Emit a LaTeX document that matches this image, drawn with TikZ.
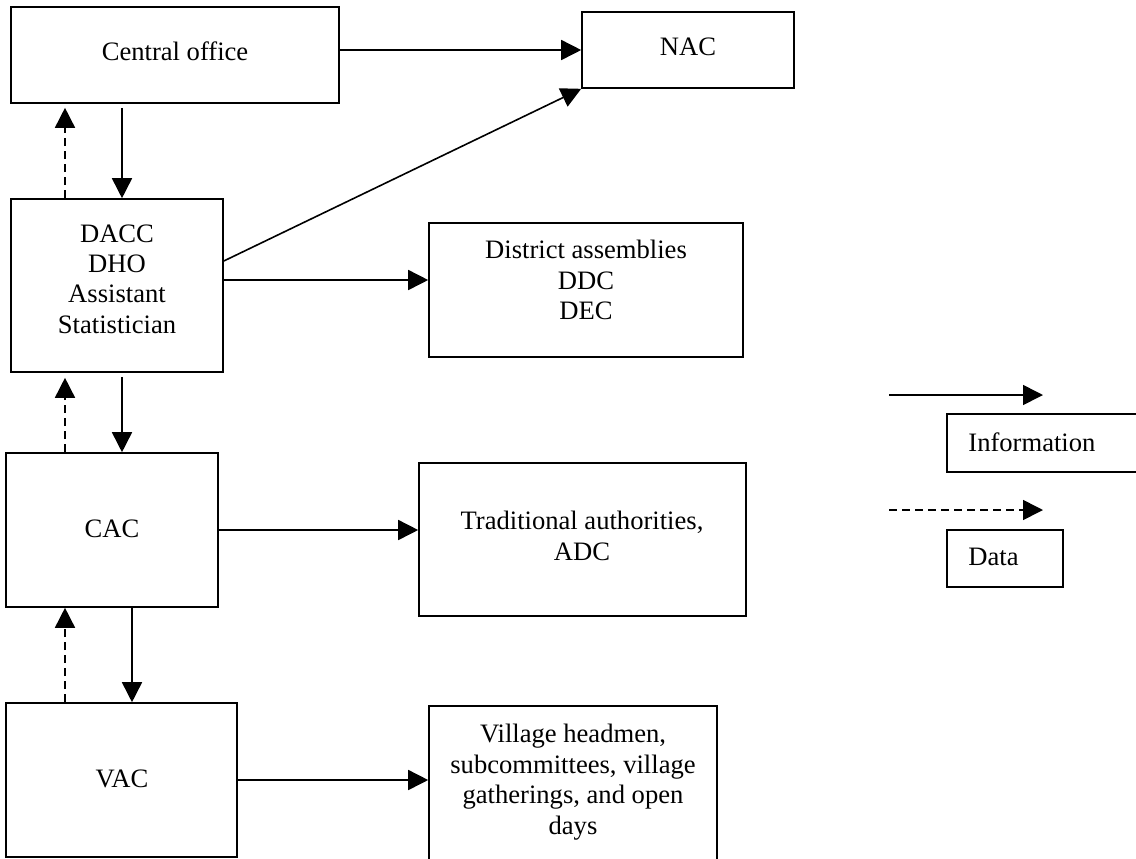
\documentclass[tikz,border=0pt]{standalone}
\usepackage{fontspec}
\setmainfont{Liberation Serif}
\usetikzlibrary{arrows.meta,fit}
\begin{document}
\begin{tikzpicture}[x=0.5pt,y=-0.5pt,
  box/.style={draw, line width=0.8pt, inner sep=0pt},
  txt/.style={inner sep=0pt, align=center, font=\fontsize{13.3}{15.2}\selectfont},
  info/.style={line width=0.8pt, -{Triangle[length=10pt,width=10pt]}},
  datal/.style={info, dash pattern=on 4pt off 2.5pt}]
\useasboundingbox (0,0) rectangle (1136,858);
% boxes
\node[box, fit={(11,7) (339,103)}] (central) {};
\node[box, fit={(582,12) (794,88)}] (nac) {};
\node[box, fit={(11,199) (223,372)}] (dacc) {};
\node[box, fit={(429,223) (743,357)}] (district) {};
\node[box, fit={(6,453) (218,607)}] (cac) {};
\node[box, fit={(419,463) (746,616)}] (trad) {};
\node[box, fit={(6,703) (237,857)}] (vac) {};
\node[box, fit={(429,706) (717,875)}] (village) {};
\node[box, fit={(947,414) (1145,472)}] (infobox) {};
\node[box, fit={(947,530) (1063,587)}] (databox) {};
% texts
\node[txt, anchor=base] (centralT) at (175,60) {Central office};
\node[txt, anchor=base] (nacT) at (688,55) {NAC};
\node[txt, anchor=north] (daccT) at (117,224) {DACC\\DHO\\Assistant\\Statistician};
\node[txt, anchor=north] (districtT) at (586,240) {District assemblies\\DDC\\DEC};
\node[txt, anchor=base] (cacT) at (112,537) {CAC};
\node[txt, anchor=north] (tradT) at (582,511) {Traditional authorities,\\ADC};
\node[txt, anchor=base] (vacT) at (122,787) {VAC};
\node[txt, anchor=north] (villageT) at (573,724) {Village headmen,\\subcommittees, village\\gatherings, and open\\days};
\node[txt, anchor=base west] (infoT) at (968,451) {Information};
\node[txt, anchor=base west] (dataT) at (968,565) {Data};
% helper coordinates
\coordinate (xa) at (122,0);
\coordinate (xb) at (65,0);
\coordinate (xc) at (132,0);
\coordinate (y261) at (0,261);
\coordinate (y280) at (0,280);
\coordinate (l1a) at (889,395);
\coordinate (l1b) at (1043,395);
\coordinate (l2a) at (889,510);
\coordinate (l2b) at (1043,510);
% connectors
\draw[info] (central.east |- nac.west) -- (nac.west);
\draw[info, shorten <=2pt] (central.south -| xa) -- (dacc.north -| xa);
\draw[datal, shorten >=2pt] (dacc.north -| xb) -- (central.south -| xb);
\draw[info] (dacc.east |- y261) -- (nac.south west);
\draw[info] (dacc.east |- y280) -- (district.west |- y280);
\draw[info, shorten <=2pt] (dacc.south -| xa) -- (cac.north -| xa);
\draw[datal, shorten >=2.5pt] (cac.north -| xb) -- (dacc.south -| xb);
\draw[info] (cac.east) -- (trad.west |- cac.east);
\draw[info] (cac.south -| xc) -- (vac.north -| xc);
\draw[datal] (vac.north -| xb) -- (cac.south -| xb);
\draw[info] (vac.east) -- (village.west |- vac.east);
\draw[info] (l1a) -- (l1b);
\draw[datal] (l2a) -- (l2b);
\end{tikzpicture}
\end{document}
